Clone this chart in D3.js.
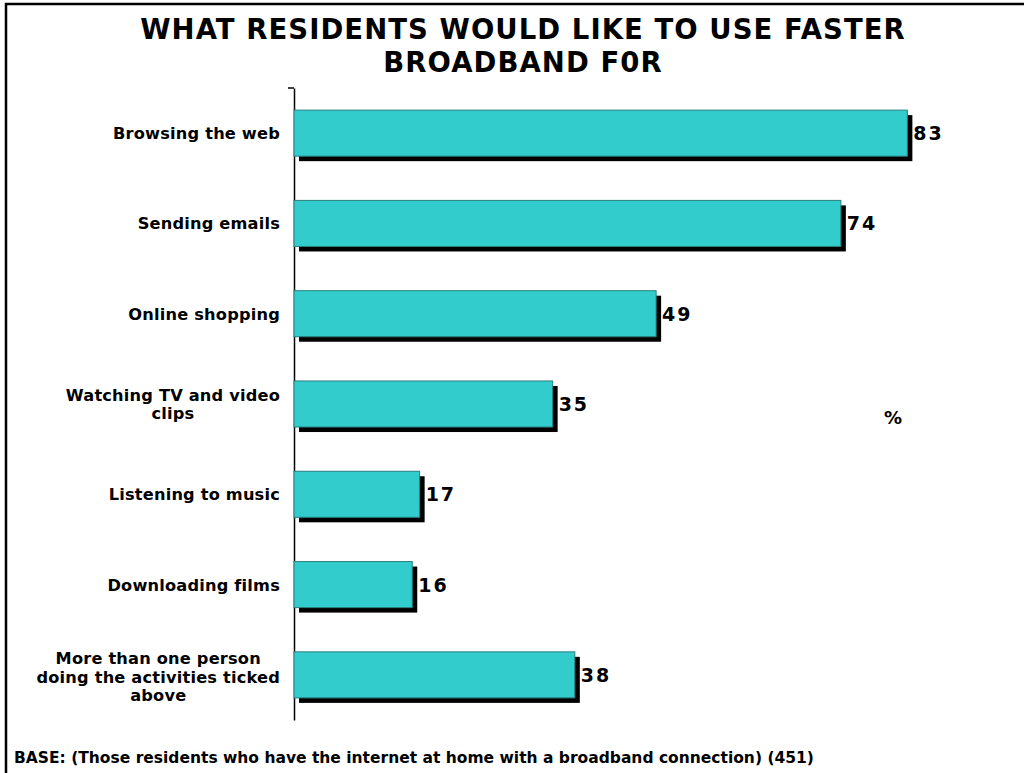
<!DOCTYPE html>
<html><head><meta charset="utf-8">
<script src="https://cdn.jsdelivr.net/npm/d3@7"></script>
<style>body{margin:0;background:#fff}svg{display:block}</style>
</head><body>
<svg id="c" width="1024" height="773"></svg>
<script>
const categories = [
  ["Browsing the web"],
  ["Sending emails"],
  ["Online shopping"],
  ["Watching TV and video", "clips"],
  ["Listening to music"],
  ["Downloading films"],
  ["More than one person", "doing the activities ticked", "above"]
];
const values = [83, 74, 49, 35, 17, 16, 38];
const titleLines = ["WHAT RESIDENTS WOULD LIKE TO USE FASTER", "BROADBAND F0R"];
const unitLabel = "%";
const baseNote = "BASE: (Those residents who have the internet at home with a broadband connection) (451)";

const FONT = "'DejaVu Sans', Verdana, sans-serif";
const svg = d3.select("#c");

// frame
svg.append("rect").attr("x", 6).attr("y", 4).attr("width", 1030).attr("height", 800)
  .attr("fill", "none").attr("stroke", "#000").attr("stroke-width", 2.5);

// title
svg.append("g").selectAll("text").data(titleLines).join("text")
  .attr("x", 523).attr("y", (d, i) => 39 + i * 33)
  .attr("text-anchor", "middle")
  .attr("font-family", FONT).attr("font-weight", "bold").attr("font-size", 27.5)
  .attr("letter-spacing", 1.05)
  .attr("fill", "#000").text(d => d);

const idx = categories.map((d, i) => i);
const x = d3.scaleLinear().domain([0, 100]).range([294, 1033]);
const y = d3.scaleBand().domain(idx).range([88, 720]).paddingInner(0.49).paddingOuter(0.245);

// axis
const ax = svg.append("g").attr("transform", "translate(294,0)")
  .call(d3.axisLeft(y).tickSize(0).tickSizeOuter(0).tickFormat(""));
ax.select(".domain").attr("stroke", "#000").attr("stroke-width", 1.5);
svg.append("line").attr("x1", 288).attr("x2", 294).attr("y1", 88).attr("y2", 88)
  .attr("stroke", "#000").attr("stroke-width", 1.5);

// shadows
svg.append("g").selectAll("rect").data(values).join("rect")
  .attr("x", x(0) + 5).attr("y", (d, i) => y(i) + 5)
  .attr("width", d => x(d) - x(0)).attr("height", y.bandwidth())
  .attr("fill", "#000");
// bars
svg.append("g").selectAll("rect").data(values).join("rect")
  .attr("x", x(0)).attr("y", (d, i) => y(i))
  .attr("width", d => x(d) - x(0)).attr("height", y.bandwidth())
  .attr("fill", "#33CCCC").attr("stroke", "#2a7f7f").attr("stroke-width", 1);

// value labels
svg.append("g").selectAll("text").data(values).join("text")
  .attr("x", d => x(d) + 6).attr("y", (d, i) => y(i) + y.bandwidth() / 2 + 7)
  .attr("font-family", FONT).attr("font-weight", "bold").attr("font-size", 19)
  .attr("letter-spacing", 2).attr("fill", "#000").text(d => d);

// category labels
const lg = svg.append("g").attr("font-family", FONT).attr("font-weight", "bold")
  .attr("font-size", 16.2).attr("letter-spacing", 0.2).attr("fill", "#000");
categories.forEach((lines, i) => {
  const t = lg.append("text").attr("text-anchor", "middle");
  const lh = 18.5;
  const cy = y(i) + y.bandwidth() / 2;
  const y0 = cy - (lines.length - 1) * lh / 2 + 6 + (lines.length > 2 ? 2 : 0);
  lines.forEach((l, j) => t.append("tspan").attr("y", y0 + j * lh).text(l));
  let maxW = 0;
  t.selectAll("tspan").each(function () { maxW = Math.max(maxW, this.getComputedTextLength()); });
  t.selectAll("tspan").attr("x", 280 - maxW / 2);
});

// % label
svg.append("text").attr("x", 893).attr("y", 424).attr("text-anchor", "middle")
  .attr("font-family", FONT).attr("font-weight", "bold").attr("font-size", 18)
  .text(unitLabel);

// base note
svg.append("text").attr("x", 14).attr("y", 763)
  .attr("font-family", FONT).attr("font-weight", "bold").attr("font-size", 15.5)
  .text(baseNote);
</script>
</body></html>
